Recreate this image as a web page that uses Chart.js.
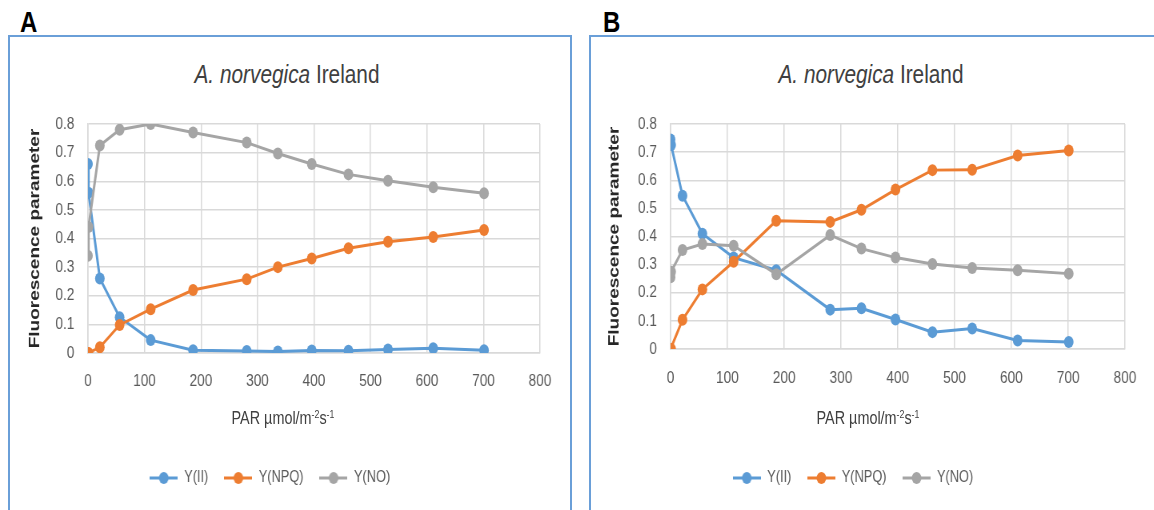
<!DOCTYPE html>
<html>
<head>
<meta charset="utf-8">
<script src="https://cdn.jsdelivr.net/npm/chart.js@4.4.1/dist/chart.umd.min.js"></script>
<style>
  body { margin: 0; background: #fff; width: 1154px; height: 510px; overflow: hidden; position: relative;
         font-family: "Liberation Sans", Arial, sans-serif; }
  .panel { position: absolute; top: 35px; height: 500px; border: 2px solid #6a9fd8; box-sizing: border-box; }
  .letter { position: absolute; top: 7px; font-size: 30px; line-height: 30px; font-weight: bold; color: #000;
            transform: scaleX(0.8); transform-origin: 0 0; }
  .title { position: absolute; top: 61px; font-size: 26px; line-height: 26px; color: #404040; white-space: nowrap;
           transform: translateX(-50%) scaleX(0.8); }
  .xtitle { position: absolute; top: 409px; font-size: 18px; line-height: 18px; color: #404040; white-space: nowrap;
            transform: translateX(-50%) scaleX(0.8); }
  .xtitle sup { font-size: 11px; vertical-align: 6px; line-height: 0; }
  canvas { position: absolute; top: 36px; transform: scaleX(0.8); transform-origin: 0 0; }
</style>
</head>
<body>
<div class="letter" style="left:20px">A</div>
<div class="letter" style="left:603px">B</div>
<div class="panel" style="left:8px;width:564px"></div>
<div class="panel" style="left:589px;width:600px"></div>
<div class="title" style="left:287px"><i>A. norvegica</i> Ireland</div>
<div class="title" style="left:871px"><i>A. norvegica</i> Ireland</div>
<canvas id="chartA" width="725" height="474" style="left:0px"></canvas>
<canvas id="chartB" width="716" height="474" style="left:581px"></canvas>
<div class="xtitle" style="left:283px">PAR µmol/m<sup>-2</sup>s<sup>-1</sup></div>
<div class="xtitle" style="left:868px">PAR µmol/m<sup>-2</sup>s<sup>-1</sup></div>
<script>
// light steps of the rapid light curve (same for both panels)
var par = [0, 1, 21, 56, 111, 186, 281, 336, 396, 461, 531, 611, 701];
var seriesNames = ["Y(II)", "Y(NPQ)", "Y(NO)"];
var seriesColors = ["#5b9bd5", "#ed7d31", "#a5a5a5"];

// panel A
var yII_A  = [0.66, 0.56, 0.26, 0.125, 0.045, 0.01, 0.007, 0.005, 0.009, 0.008, 0.012, 0.017, 0.01];
var yNPQ_A = [0, 0, 0.02, 0.098, 0.153, 0.22, 0.258, 0.30, 0.33, 0.366, 0.389, 0.405, 0.43];
var yNO_A  = [0.34, 0.44, 0.725, 0.78, 0.80, 0.77, 0.735, 0.697, 0.66, 0.624, 0.602, 0.579, 0.558];

// panel B
var yII_B  = [0.745, 0.725, 0.545, 0.41, 0.325, 0.28, 0.14, 0.145, 0.105, 0.06, 0.073, 0.03, 0.025];
var yNPQ_B = [0, 0, 0.104, 0.212, 0.31, 0.456, 0.452, 0.495, 0.567, 0.636, 0.637, 0.688, 0.706];
var yNO_B  = [0.255, 0.275, 0.352, 0.373, 0.367, 0.266, 0.405, 0.357, 0.325, 0.302, 0.288, 0.28, 0.268];

var FONT = "'Liberation Sans', Arial, sans-serif";

// little line-with-dot images for the legend
function legendMarker(color) {
    var c = document.createElement("canvas");
    c.width = 35;
    c.height = 14;
    var g = c.getContext("2d");
    g.strokeStyle = color;
    g.lineWidth = 3;
    g.beginPath();
    g.moveTo(0, 7);
    g.lineTo(35, 7);
    g.stroke();
    g.fillStyle = color;
    g.beginPath();
    g.arc(17.5, 7, 6, 0, Math.PI * 2);
    g.fill();
    return c;
}
var markers = seriesColors.map(legendMarker);

function buildDatasets(lists) {
    var sets = [];
    for (var s = 0; s < lists.length; s++) {
        var pts = [];
        for (var i = 0; i < par.length; i++) {
            pts.push({x: par[i], y: lists[s][i]});
        }
        sets.push({
            label: seriesNames[s],
            data: pts,
            borderColor: seriesColors[s],
            backgroundColor: seriesColors[s],
            borderWidth: 3,
            pointRadius: 6,
            pointBorderWidth: 0,
            pointBackgroundColor: seriesColors[s],
            tension: 0,
            order: lists.length - s   // later series drawn on top, like the original
        });
    }
    return sets;
}

function makeChart(id, lists, yAxisWidth, xAxisHeight, padRight, titlePad, tickPadX) {
    var ctx = document.getElementById(id);
    return new Chart(ctx, {
        type: "line",
        data: { datasets: buildDatasets(lists) },
        options: {
            responsive: false,
            animation: false,
            devicePixelRatio: 1,
            layout: { padding: { top: 88, right: padRight, bottom: 14, left: 0 } },
            plugins: {
                tooltip: { enabled: false },
                legend: {
                    display: true,
                    position: "bottom",
                    labels: {
                        usePointStyle: true,
                        pointStyleWidth: 35,
                        padding: 20,
                        color: "#595959",
                        font: { family: FONT, size: 16 },
                        sort: function(a, b) { return a.datasetIndex - b.datasetIndex; },
                        generateLabels: function(chart) {
                            var items = Chart.defaults.plugins.legend.labels.generateLabels(chart);
                            items.forEach(function(it) { it.pointStyle = markers[it.datasetIndex]; });
                            return items;
                        }
                    }
                }
            },
            scales: {
                x: {
                    type: "linear",
                    min: 0,
                    max: 800,
                    afterFit: function(scale) { scale.height = xAxisHeight; },
                    ticks: {
                        stepSize: 100,
                        padding: tickPadX,
                        color: "#595959",
                        font: { family: FONT, size: 17 },
                        maxRotation: 0
                    },
                    grid: { color: "#d9d9d9", lineWidth: 1.5, drawTicks: false },
                    border: { color: "#d9d9d9", width: 1.5 }
                },
                y: {
                    min: 0,
                    max: 0.8,
                    afterFit: function(scale) { scale.width = yAxisWidth; },
                    ticks: {
                        stepSize: 0.1,
                        padding: 17,
                        color: "#595959",
                        font: { family: FONT, size: 17 },
                        callback: function(v) { return String(Math.round(v * 10) / 10); }
                    },
                    grid: { color: "#d9d9d9", lineWidth: 1.5, drawTicks: false },
                    border: { color: "#d9d9d9", width: 1.5 },
                    title: {
                        display: true,
                        text: "Fluorescence parameter",
                        color: "#262626",
                        font: { family: FONT, size: 19, weight: "bold" },
                        padding: { top: titlePad, bottom: 0 }
                    }
                }
            }
        }
    });
}

makeChart("chartA", [yII_A, yNPQ_A, yNO_A], 110, 97, 50, 32, 18);
makeChart("chartB", [yII_B, yNPQ_B, yNO_B], 112, 101, 36, 30, 19);
</script>
</body>
</html>
